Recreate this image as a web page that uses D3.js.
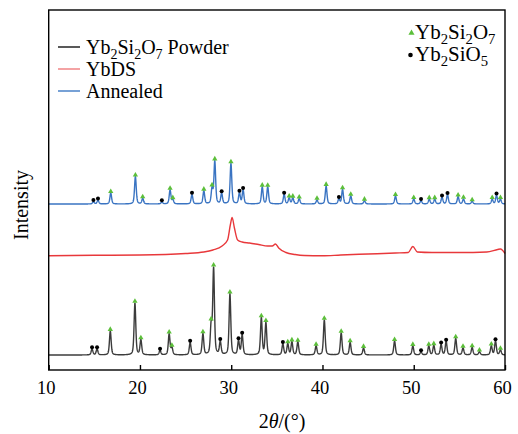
<!DOCTYPE html>
<html>
<head>
<meta charset="utf-8">
<script src="https://cdn.jsdelivr.net/npm/d3@7"></script>
<style>
  body { margin: 0; background: #fff; }
  text { font-family: "Liberation Serif", "Times New Roman", serif; fill: #000; }
</style>
</head>
<body>
<svg id="chart" width="518" height="434"></svg>
<script>
// ---- data (2theta in degrees, intensity in arbitrary units above each trace's baseline)
var xTicks = [10, 20, 30, 40, 50, 60];

// Yb2Si2O7 powder (black)
var powderPos = [14.75, 15.3, 16.75, 19.45, 20.1, 22.2, 23.2, 23.5, 25.5, 26.9, 27.8, 28.07, 28.8, 29.86, 30.8, 31.2,
                 33.3, 33.8, 35.66, 36.2, 36.65, 37.3, 39.3, 40.2, 42.05, 43.03, 44.5, 47.9, 49.9, 50.8, 51.65, 52.2,
                 53.0, 53.55, 54.6, 55.4, 56.4, 57.2, 58.5, 58.96, 59.5];
var powderInt = [6, 6, 24, 52, 15, 4.5, 21, 7, 12.5, 21, 28, 86, 13, 61, 14, 20,
                 37, 32, 11, 11, 13, 13, 9, 35, 22, 12.5, 7, 14, 9, 3, 9, 9.5,
                 10.5, 13.5, 16.5, 7, 7.5, 3.3, 9, 14, 5];
var powderPhase = ["M","M","D","D","D","M","D","D","M","D","D","D","M","D","M","M",
                   "D","D","M","D","D","D","D","D","D","D","D","D","D","M","D","D",
                   "M","M","D","D","D","D","D","M","D"];

// annealed coating (blue)
var annealPos = [14.9, 15.4, 16.8, 19.5, 20.3, 22.4, 23.3, 23.6, 25.7, 27.0, 27.9, 28.2, 28.95, 29.97, 30.9, 31.3,
                 33.4, 34.0, 35.8, 36.35, 36.75, 37.45, 39.4, 40.4, 41.8, 42.2, 43.1, 44.6, 48.0, 50.0, 50.8, 51.7,
                 52.3, 53.1, 53.7, 54.86, 55.45, 56.4, 58.6, 59.07, 59.5];
var annealInt = [2.3, 4, 11, 27.5, 5.5, 2, 14, 4, 9.5, 13, 15, 42.5, 10.5, 40.5, 11, 14,
                 17, 17, 9.5, 6, 6, 5.3, 4, 18, 5, 14.5, 8, 3.3, 8, 5, 3.3, 4.7,
                 4.7, 6.7, 9.3, 7.3, 5, 2.7, 4.7, 8.7, 4.7];
var annealPhase = ["M","M","D","D","D","M","D","D","M","D","D","D","M","D","M","M",
                   "D","D","M","D","D","D","D","D","M","D","D","D","D","D","M","D",
                   "D","M","M","D","D","D","D","M","D"];

// YbDS as sprayed (red)
var ybdsX = [10, 15, 20, 25, 27, 28, 29, 29.6, 29.9, 30.1, 30.35, 30.7, 31.2, 32, 33, 34, 34.5, 34.85, 35.2, 36, 37, 38,
             40, 42, 45, 48, 49.4, 49.9, 50.4, 52, 55, 58, 59.2, 59.5, 60];
var ybdsY = [0.3, 0.7, 1, 2.5, 4, 6, 10, 16, 31, 38.5, 28, 16, 14, 13, 11.5, 10, 10, 12, 8, 3.5, 1.5, 0.5,
             0.2, 1, 2, 3, 3.5, 9.5, 4, 3.5, 3.5, 4, 6.5, 7, 2.5];

// vertical offsets of the stacked patterns
var offsets = { powder: 15, ybds: 114, anneal: 166 };

// ---- layout
var svg = d3.select("#chart");
var mLeft = 48.7, mRight = 505, mTop = 10, mBottom = 370;

var x = d3.scaleLinear().domain([10, 60]).range([mLeft, mRight]);
var y = d3.scaleLinear().domain([0, 360]).range([mBottom, mTop]);

// peak profile (pseudo-Voigt) summed over a peak list
var fwhm = 0.22;
var profile = function (pos, ints, t) {
    var s = 0;
    for (var i = 0; i < pos.length; i++) {
        var d = (t - pos[i]) / fwhm;
        var g = Math.exp(-4 * Math.LN2 * d * d);
        var l = 1 / (1 + 4 * d * d);
        s += ints[i] * (0.55 * g + 0.45 * l);
    }
    return s;
};

var grid = d3.range(10, 60.001, 0.02);

var line = d3.line()
    .x(function (d) { return x(d[0]); })
    .y(function (d) { return y(d[1]); });

var plot = svg.append("g");

var drawPattern = function (pos, ints, off, color) {
    var pts = grid.map(function (t) { return [t, off + profile(pos, ints, t)]; });
    plot.append("path")
        .datum(pts)
        .attr("d", line)
        .style("fill", "none")
        .style("stroke", color)
        .style("stroke-width", 1.4)
        .style("stroke-linejoin", "round");
};

drawPattern(powderPos, powderInt, offsets.powder, "#3c3c3c");
drawPattern(annealPos, annealInt, offsets.anneal, "#3a74c2");

// YbDS
var smooth = d3.line()
    .x(function (d) { return x(d[0]); })
    .y(function (d) { return y(d[1]); })
    .curve(d3.curveMonotoneX);
plot.append("path")
    .datum(ybdsX.map(function (v, i) { return [v, offsets.ybds + ybdsY[i]]; }))
    .attr("d", smooth)
    .style("fill", "none")
    .style("stroke", "#e8383b")
    .style("stroke-width", 1.4);

// phase markers
var tri = d3.symbol().type(d3.symbolTriangle).size(12);

var drawMarkers = function (pos, ints, phase, off) {
    pos.forEach(function (p, i) {
        var py = y(off + profile(pos, ints, p)) - 1.5;
        if (phase[i] === "D") {
            plot.append("path")
                .attr("d", tri)
                .attr("transform", "translate(" + x(p) + "," + py + ")")
                .style("fill", "#5cbf3a");
        } else {
            plot.append("circle")
                .attr("cx", x(p))
                .attr("cy", py)
                .attr("r", 2)
                .style("fill", "#000");
        }
    });
};

drawMarkers(powderPos, powderInt, powderPhase, offsets.powder);
drawMarkers(annealPos, annealInt, annealPhase, offsets.anneal);

// ---- frame + axis
svg.append("rect")
    .attr("x", mLeft).attr("y", mTop)
    .attr("width", mRight - mLeft).attr("height", mBottom - mTop)
    .style("fill", "none").style("stroke", "#000").style("stroke-width", 1.4);

var xAxis = svg.append("g")
    .attr("transform", "translate(0," + mBottom + ")")
    .call(d3.axisBottom(x).tickValues(xTicks).tickSizeInner(-5).tickSizeOuter(0).tickPadding(11));
xAxis.attr("font-family", null).attr("font-size", null);
xAxis.select(".domain").remove();
xAxis.selectAll("line").style("stroke", "#000").style("stroke-width", 1.4);
xAxis.selectAll("text")
    .attr("dx", -3)
    .style("font-family", "'Liberation Serif', 'DejaVu Serif', serif")
    .style("font-size", "18.5px");

// axis titles
var xt = svg.append("text")
    .attr("x", 282).attr("y", 428)
    .style("font-size", "20px")
    .style("text-anchor", "middle");
xt.append("tspan").text("2");
xt.append("tspan").style("font-style", "italic").text("θ");
xt.append("tspan").text("/(°)");

svg.append("text")
    .attr("transform", "translate(28,205) rotate(-90)")
    .style("font-size", "20px")
    .style("text-anchor", "middle")
    .text("Intensity");

// ---- legends
var chem = function (g, parts, xx, yy, size) {
    var t = g.append("text").attr("x", xx).attr("y", yy).style("font-size", size + "px");
    var low = false;
    parts.forEach(function (p) {
        var s = t.append("tspan").text(p[0]);
        if (p[1]) {
            s.style("font-size", (size * 0.7) + "px");
            if (!low) { s.attr("dy", 5); low = true; }
        } else if (low) {
            s.attr("dy", -5); low = false;
        }
    });
    return t;
};

var legendItems = [
    { parts: [["Yb"], ["2", 1], ["Si"], ["2", 1], ["O"], ["7", 1], [" Powder"]], color: "#222" },
    { parts: [["YbDS"]], color: "#f08486" },
    { parts: [["Annealed"]], color: "#4a82c8" }
];
var leg = svg.append("g");
legendItems.forEach(function (d, i) {
    var ly = 47 + i * 22;
    leg.append("line")
        .attr("x1", 58).attr("x2", 80)
        .attr("y1", ly).attr("y2", ly)
        .style("stroke", d.color).style("stroke-width", 1.5);
    chem(leg, d.parts, 86, ly + 7, 20);
});

var leg2 = svg.append("g");
leg2.append("path")
    .attr("d", d3.symbol().type(d3.symbolTriangle).size(16))
    .attr("transform", "translate(411.5,33)")
    .style("fill", "#5cbf3a");
chem(leg2, [["Yb"], ["2", 1], ["Si"], ["2", 1], ["O"], ["7", 1]], 415, 39, 21);
leg2.append("circle")
    .attr("cx", 410.5).attr("cy", 55).attr("r", 2.3)
    .style("fill", "#000");
chem(leg2, [["Yb"], ["2", 1], ["SiO"], ["5", 1]], 415, 61, 21);
</script>
</body>
</html>
